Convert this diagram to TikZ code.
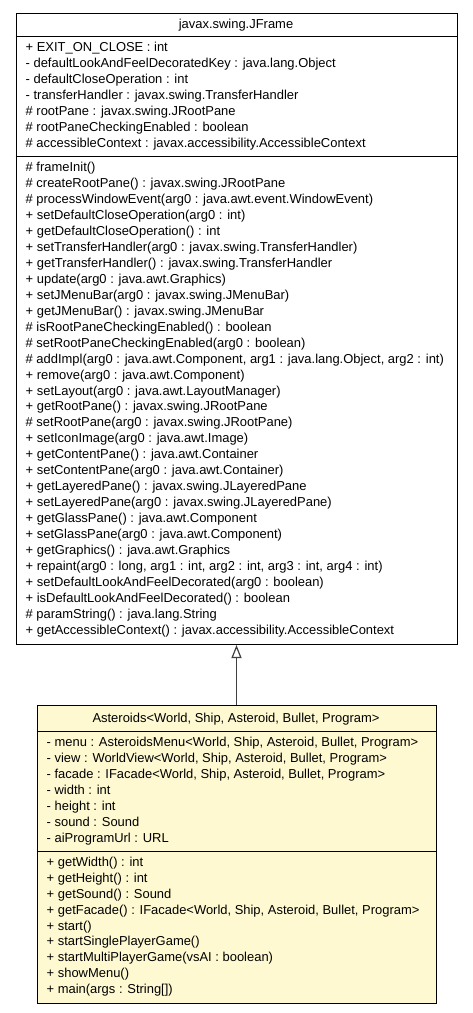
\documentclass[tikz,border=0pt]{standalone}
\usepackage{fontspec}
\setmainfont{Liberation Sans}
\usetikzlibrary{arrows.meta}
\definecolor{classfill}{HTML}{FEF9D1}
\definecolor{edgegray}{HTML}{404040}
\begin{document}
\begin{tikzpicture}[x=1pt,y=1pt,
  txt/.style={inner sep=0pt, anchor=base west, font=\fontsize{12.95}{16}\selectfont, text=black},
  ttl/.style={inner sep=0pt, anchor=base, font=\fontsize{12.95}{16}\selectfont, text=black},
  classbox/.style={draw=black, line width=1pt, rectangle, inner sep=0pt, anchor=north west},
  sepline/.style={draw=black, line width=1pt},
  inherit/.style={draw=edgegray, line width=1.2pt, -{Triangle[open, length=13pt, width=10pt]}}]
\useasboundingbox (0,0) rectangle (472,-1013);
% JFrame class
\node[classbox, fill=white, minimum width=441pt, minimum height=631.5pt] (jframe) at (15.5,-12.5) {};
\draw[sepline] (15.5,-36.5) -- (456.5,-36.5);
\draw[sepline] (15.5,-156.5) -- (456.5,-156.5);
\node[ttl] (jtitle) at (236,-28.8) {javax.swing.JFrame};
\foreach \t [count=\i from 0] in {
  {+ EXIT\_ON\_CLOSE : int},
  {- defaultLookAndFeelDecoratedKey : java.lang.Object},
  {- defaultCloseOperation : int},
  {- transferHandler : javax.swing.TransferHandler},
  {\# rootPane : javax.swing.JRootPane},
  {\# rootPaneCheckingEnabled : boolean},
  {\# accessibleContext : javax.accessibility.AccessibleContext}}
  \node[txt] (ja\i) at (25.5,{-(36.5+15.2+\i*15.95)}) {\t};
\foreach \t [count=\i from 0] in {
  {\# frameInit()},
  {\# createRootPane() : javax.swing.JRootPane},
  {\# processWindowEvent(arg0 : java.awt.event.WindowEvent)},
  {+ setDefaultCloseOperation(arg0 : int)},
  {+ getDefaultCloseOperation() : int},
  {+ setTransferHandler(arg0 : javax.swing.TransferHandler)},
  {+ getTransferHandler() : javax.swing.TransferHandler},
  {+ update(arg0 : java.awt.Graphics)},
  {+ setJMenuBar(arg0 : javax.swing.JMenuBar)},
  {+ getJMenuBar() : javax.swing.JMenuBar},
  {\# isRootPaneCheckingEnabled() : boolean},
  {\# setRootPaneCheckingEnabled(arg0 : boolean)},
  {\# addImpl(arg0 : java.awt.Component, arg1 : java.lang.Object, arg2 : int)},
  {+ remove(arg0 : java.awt.Component)},
  {+ setLayout(arg0 : java.awt.LayoutManager)},
  {+ getRootPane() : javax.swing.JRootPane},
  {\# setRootPane(arg0 : javax.swing.JRootPane)},
  {+ setIconImage(arg0 : java.awt.Image)},
  {+ getContentPane() : java.awt.Container},
  {+ setContentPane(arg0 : java.awt.Container)},
  {+ getLayeredPane() : javax.swing.JLayeredPane},
  {+ setLayeredPane(arg0 : javax.swing.JLayeredPane)},
  {+ getGlassPane() : java.awt.Component},
  {+ setGlassPane(arg0 : java.awt.Component)},
  {+ getGraphics() : java.awt.Graphics},
  {+ repaint(arg0 : long, arg1 : int, arg2 : int, arg3 : int, arg4 : int)},
  {+ setDefaultLookAndFeelDecorated(arg0 : boolean)},
  {+ isDefaultLookAndFeelDecorated() : boolean},
  {\# paramString() : java.lang.String},
  {+ getAccessibleContext() : javax.accessibility.AccessibleContext}}
  \node[txt] (jm\i) at (25.5,{-(156.5+15.2+\i*15.95)}) {\t};
% Asteroids class
\node[classbox, fill=classfill, minimum width=399pt, minimum height=298.5pt] (ast) at (36.5,-704.5) {};
\draw[sepline] (36.5,-731.5) -- (435.5,-731.5);
\draw[sepline] (36.5,-851) -- (435.5,-851);
\node[ttl] (atitle) at (236,-722.8) {Asteroids<World, Ship, Asteroid, Bullet, Program>};
\foreach \t [count=\i from 0] in {
  {- menu : AsteroidsMenu<World, Ship, Asteroid, Bullet, Program>},
  {- view : WorldView<World, Ship, Asteroid, Bullet, Program>},
  {- facade : IFacade<World, Ship, Asteroid, Bullet, Program>},
  {- width : int},
  {- height : int},
  {- sound : Sound},
  {- aiProgramUrl : URL}}
  \node[txt] (aa\i) at (46.5,{-(731.5+15.2+\i*15.95)}) {\t};
\foreach \t [count=\i from 0] in {
  {+ getWidth() : int},
  {+ getHeight() : int},
  {+ getSound() : Sound},
  {+ getFacade() : IFacade<World, Ship, Asteroid, Bullet, Program>},
  {+ start()},
  {+ startSinglePlayerGame()},
  {+ startMultiPlayerGame(vsAI : boolean)},
  {+ showMenu()},
  {+ main(args : String[])}}
  \node[txt] (am\i) at (46.5,{-(851+15.2+\i*15.95)}) {\t};
% generalization
\draw[inherit] (ast.north) -- (jframe.south);
\end{tikzpicture}
\end{document}
